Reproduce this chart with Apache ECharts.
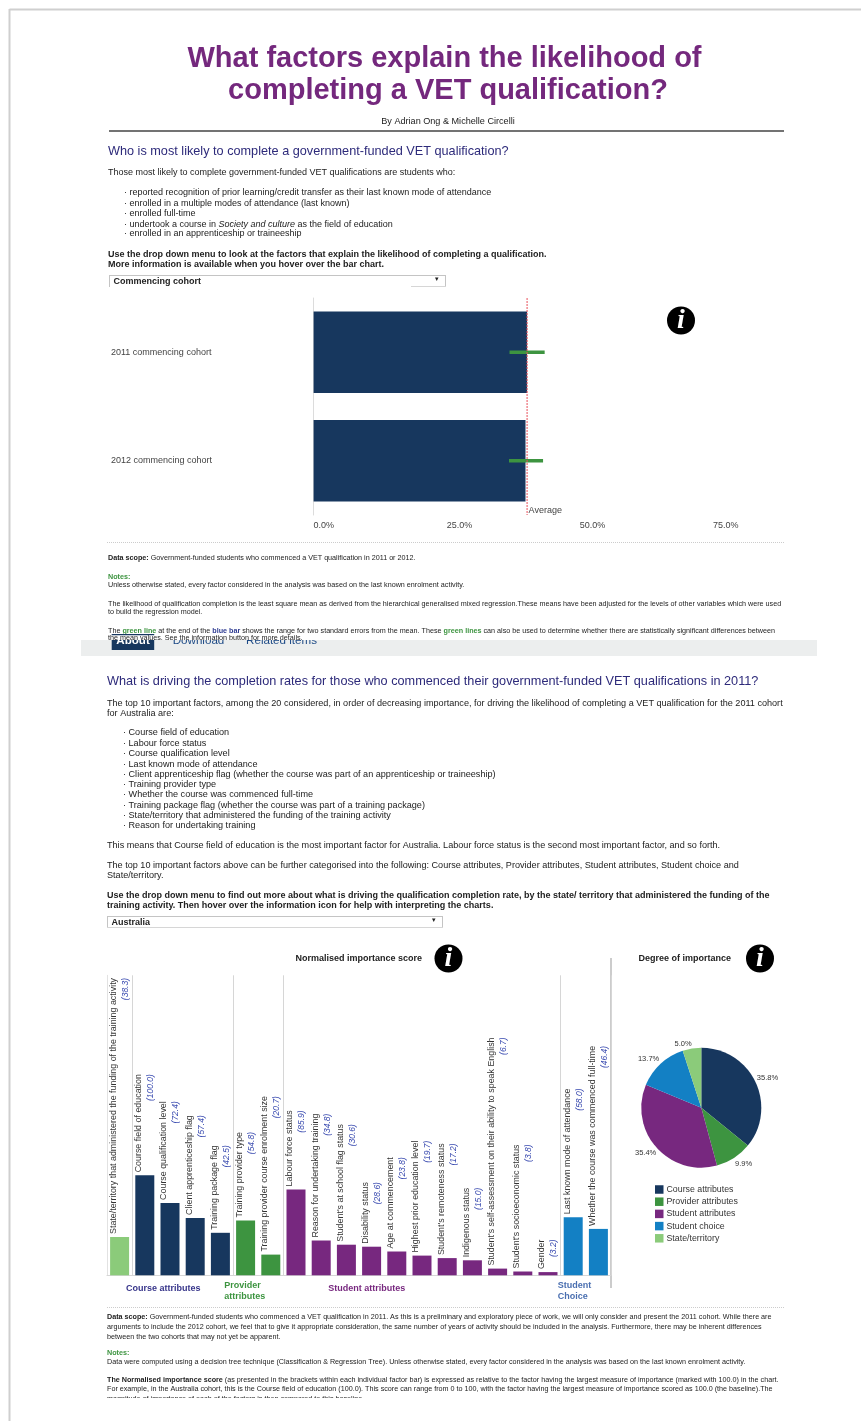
<!DOCTYPE html>
<html>
<head>
<meta charset="utf-8">
<title>What factors explain the likelihood of completing a VET qualification?</title>
<style>html,body{margin:0;padding:0;background:#fff}#chart{width:861px;height:1421px}</style>
<script src="https://cdn.jsdelivr.net/npm/echarts@6/dist/echarts.min.js"></script>
</head>
<body>
<div id="chart"></div>
<script>
// ---- Data ----
const cohortNames = ['2011 commencing cohort', '2012 commencing cohort'];
const cohortMeans = [40.1, 39.8];
const cohortLow = [36.8, 36.7];
const cohortHigh = [43.4, 43.1];
const cohortAverage = 40.1;
const cohortTicks = [0, 25, 50, 75];

const factorNames = [
  'State/territory that administered the funding of the training activity',
  'Course field of education', 'Course qualification level', 'Client apprenticeship flag', 'Training package flag',
  'Training provider type', 'Training provider course enrolment size',
  'Labour force status', 'Reason for undertaking training', "Student's at school flag status", 'Disability status',
  'Age at commencement', 'Highest prior education level', "Student's remoteness status", 'Indigenous status',
  "Student's self-assessment on their ability to speak English", "Student's socioeconomic status", 'Gender',
  'Last known mode of attendance', 'Whether the course was commenced full-time'
];
const factorScores = [38.3, 100.0, 72.4, 57.4, 42.5, 54.8, 20.7, 85.9, 34.8, 30.6, 28.6, 23.8, 19.7, 17.2, 15.0, 6.7, 3.8, 3.2, 58.0, 46.4];
const factorGroups = [4, 0, 0, 0, 0, 1, 1, 2, 2, 2, 2, 2, 2, 2, 2, 2, 2, 2, 3, 3];
const groupStarts = [1, 5, 7, 18];

const groupNames = ['Course attributes', 'Provider attributes', 'Student attributes', 'Student choice', 'State/territory'];
const groupShares = [35.8, 9.9, 35.4, 13.7, 5.0];

// ---- Styles ----
const palette = ['#17375e', '#3d9440', '#77287f', '#1380c4', '#8bcb7a'];
const pieLabelNudge = [[-5.5, -3], [-5, 4], [6.5, 4], [5, -3], [5, -3]];
const SANS = '"Liberation Sans", Arial, sans-serif';
const INK = '#222';
const BODY = 9;
const NOTE = 7.2;

function T(x, y, text, o) {
  o = o || {};
  const st = {
    text: text, fontFamily: SANS, fontSize: o.size || BODY, fontWeight: o.weight || 'normal',
    fontStyle: o.style || 'normal', fill: o.color || INK,
    align: o.align || 'left', textAlign: o.align || 'left',
    verticalAlign: o.va || 'middle', textVerticalAlign: o.va || 'middle'
  };
  if (o.rich) st.rich = o.rich;
  return { type: 'text', x: x, y: y, silent: true, style: st };
}
function R(x, y, w, h, fill) {
  return { type: 'rect', silent: true, shape: { x: x, y: y, width: w, height: h }, style: { fill: fill } };
}
function L(x1, y1, x2, y2, stroke, width, dash) {
  return { type: 'line', silent: true, shape: { x1: x1, y1: y1, x2: x2, y2: y2 },
    style: { stroke: stroke, lineWidth: width, lineDash: dash || null } };
}
function icon(cx, cy) {
  return [
    { type: 'circle', silent: true, shape: { cx: cx, cy: cy, r: 14 }, style: { fill: '#000' } },
    T(cx, cy, 'i', { align: 'center', size: 28, weight: 'bold', style: 'italic', color: '#fff' })
  ].map(function (e) {
    if (e.type === 'text') e.style.fontFamily = '"Liberation Serif", serif';
    return e;
  });
}
function dropdown(x, y, w, h, label, bottomFrom) {
  return [
    R(x, y, w, h, '#fff'),
    L(x, y + 0.5, x + w, y + 0.5, '#c4c4c4', 1),
    L(x + 0.5, y, x + 0.5, y + h, '#c4c4c4', 1),
    L(x + w - 0.5, y, x + w - 0.5, y + h, '#c4c4c4', 1),
    L(bottomFrom, y + h - 0.5, x + w, y + h - 0.5, '#d6d6d6', 1),
    T(x + 4.5, y + 7, label, { weight: 'bold' }),
    T(x + w - 9, y + 4, '\u25BE', { size: 7, align: 'center', color: '#222' })
  ];
}

const RICH_NOTES = {
  g: { fontFamily: SANS, fontSize: NOTE, fontWeight: 'bold', fill: '#3d9440', textFill: '#3d9440' },
  b: { fontFamily: SANS, fontSize: NOTE, fontWeight: 'bold', fill: '#2f3c92', textFill: '#2f3c92' },
  d: { fontFamily: SANS, fontSize: NOTE, fontWeight: 'bold', fill: INK, textFill: INK },
  t: { fontFamily: SANS, fontSize: NOTE, fill: INK, textFill: INK }
};
const RICH_ITALIC = {
  i: { fontFamily: SANS, fontSize: BODY, fontStyle: 'italic', fill: INK, textFill: INK },
  t: { fontFamily: SANS, fontSize: BODY, fill: INK, textFill: INK }
};

const HEADING = '#2d2a7a';

let g = [];
// page frame
g.push(L(9.5, 9.5, 861, 9.5, '#cfcfcf', 2), L(9.5, 9, 9.5, 1421, '#cfcfcf', 2));

// title block
g.push(T(444.5, 59, 'What factors explain the likelihood of', { size: 29, weight: 'bold', color: '#74287d', align: 'center' }));
g.push(T(448, 91, 'completing a VET qualification?', { size: 29, weight: 'bold', color: '#74287d', align: 'center' }));
g.push(T(448, 121.5, 'By Adrian Ong & Michelle Circelli', { align: 'center', size: 9.1 }));
g.push(L(109, 131, 784, 131, '#444', 1.5));

// section 1 text
g.push(T(108, 151.5, 'Who is most likely to complete a government-funded VET qualification?', { size: 12.7, color: HEADING }));
g.push(T(108, 173, 'Those most likely to complete government-funded VET qualifications are students who:'));
[[193, '\u00B7 reported recognition of prior learning/credit transfer as their last known mode of attendance'],
 [203.3, '\u00B7 enrolled in a multiple modes of attendance (last known)'],
 [214, '\u00B7 enrolled full-time']].forEach(function (l) { g.push(T(124, l[0], l[1])); });
g.push(T(124, 224.3, '{t|\u00B7 undertook a course in }{i|Society and culture}{t| as the field of education}', { rich: RICH_ITALIC }));
g.push(T(124, 234, '\u00B7 enrolled in an apprenticeship or traineeship'));
g.push(T(108, 254.3, 'Use the drop down menu to look at the factors that explain the likelihood of completing a qualification.', { weight: 'bold' }));
g.push(T(108, 265, 'More information is available when you hover over the bar chart.', { weight: 'bold' }));
g = g.concat(dropdown(109, 275, 337, 12, 'Commencing cohort', 411));
g = g.concat(icon(681, 320.5));

// section 1 notes
g.push(L(107, 542.5, 785, 542.5, '#cccccc', 1, [1, 1]));
g.push(T(108, 558, '{d|Data scope:}{t| Government-funded students who commenced a VET qualification in 2011 or 2012.}', { rich: RICH_NOTES }));
g.push(T(108, 576.7, 'Notes:', { size: NOTE, weight: 'bold', color: '#3d9440' }));
g.push(T(108, 585.3, 'Unless otherwise stated, every factor considered in the analysis was based on the last known enrolment activity.', { size: NOTE }));
g.push(T(108, 604, 'The likelihood of qualification completion is the least square mean as derived from the hierarchical generalised mixed regression.These means have been adjusted for the levels of other variables which were used', { size: NOTE }));
g.push(T(108, 612.3, 'to build the regression model.', { size: NOTE }));
g.push(T(108, 630.7, '{t|The }{g|green line}{t| at the end of the }{b|blue bar}{t| shows the range for two standard errors from the mean. These }{g|green lines}{t| can also be used to determine whether there are statistically significant differences between}', { rich: RICH_NOTES }));

// clipped navigation band
g.push(R(81, 640, 736, 16, '#eceeee'));
g.push(R(111.7, 634, 42.5, 16, '#17375e'));
g.push(T(133, 641, 'About', { size: 11.6, weight: 'bold', color: '#fff', align: 'center' }));
g.push(T(198.5, 641, 'Download', { size: 11.6, color: '#1d4a86', align: 'center' }));
g.push(T(281.5, 641, 'Related items', { size: 11.6, color: '#1d4a86', align: 'center' }));
g.push(R(81, 635.2, 736, 4.8, '#fff'));
g.push(T(108, 641.5, 'the mean values. See the information button for more details.', { size: NOTE, va: 'bottom' }));

// section 2 text
g.push(T(107, 681.3, 'What is driving the completion rates for those who commenced their government-funded VET qualifications in 2011?', { size: 12.7, color: HEADING }));
g.push(T(107, 703, 'The top 10 important factors, among the 20 considered, in order of decreasing importance, for driving the likelihood of completing a VET qualification for the 2011 cohort', { size: 9.1 }));
g.push(T(107, 713.7, 'for Australia are:', { size: 9.1 }));
[[732.7, 'Course field of education'], [743.3, 'Labour force status'], [753.7, 'Course qualification level'],
 [764, 'Last known mode of attendance'], [774, 'Client apprenticeship flag (whether the course was part of an apprenticeship or traineeship)'],
 [784.3, 'Training provider type'], [794.7, 'Whether the course was commenced full-time'],
 [805.3, 'Training package flag (whether the course was part of a training package)'],
 [815, 'State/territory that administered the funding of the training activity'], [825.3, 'Reason for undertaking training']
].forEach(function (l) { g.push(T(123, l[0], '\u00B7 ' + l[1], { size: 9.1 })); });
g.push(T(107, 845.3, 'This means that Course field of education is the most important factor for Australia. Labour force status is the second most important factor, and so forth.', { size: 9.1 }));
g.push(T(107, 865.7, 'The top 10 important factors above can be further categorised into the following: Course attributes, Provider attributes, Student attributes, Student choice and', { size: 9.1 }));
g.push(T(107, 875.3, 'State/territory.', { size: 9.1 }));
g.push(T(107, 895.3, 'Use the drop down menu to find out more about what is driving the qualification completion rate, by the state/ territory that administered the funding of the', { weight: 'bold' }));
g.push(T(107, 906, 'training activity. Then hover over the information icon for help with interpreting the charts.', { weight: 'bold' }));
g = g.concat(dropdown(107, 916, 336, 12, 'Australia', 107));

// chart headers
g.push(T(295.5, 959, 'Normalised importance score', { weight: 'bold' }));
g = g.concat(icon(448.5, 958.5));
g.push(T(638.5, 959, 'Degree of importance', { weight: 'bold' }));
g = g.concat(icon(760, 958.5));
g.push(L(611, 958, 611, 1288, '#cccccc', 2));

// group captions
g.push(T(126, 1288.3, 'Course attributes', { weight: 'bold', color: '#37358a' }));
g.push(T(224.3, 1286, 'Provider', { weight: 'bold', color: '#3d9440' }));
g.push(T(224.3, 1296.3, 'attributes', { weight: 'bold', color: '#3d9440' }));
g.push(T(328.3, 1288.5, 'Student attributes', { weight: 'bold', color: '#77287f' }));
g.push(T(557.7, 1286, 'Student', { weight: 'bold', color: '#4a6fb0' }));
g.push(T(557.7, 1296.3, 'Choice', { weight: 'bold', color: '#4a6fb0' }));

// section 2 notes
g.push(L(107, 1307.5, 785, 1307.5, '#cccccc', 1, [1, 1]));
g.push(T(107, 1317.3, '{d|Data scope:}{t| Government-funded students who commenced a VET qualification in 2011. As this is a preliminary and exploratory piece of work, we will only consider and present the 2011 cohort. While there are}', { rich: RICH_NOTES }));
g.push(T(107, 1326.7, 'arguments to include the 2012 cohort, we feel that to give it appropriate consideration, the same number of years of activity should be included in the analysis. Furthermore, there may be inherent differences', { size: NOTE }));
g.push(T(107, 1336.7, 'between the two cohorts that may not yet be apparent.', { size: NOTE }));
g.push(T(107, 1353.3, 'Notes:', { size: NOTE, weight: 'bold', color: '#3d9440' }));
g.push(T(107, 1361.7, 'Data were computed using a decision tree technique (Classification & Regression Tree). Unless otherwise stated, every factor considered in the analysis was based on the last known enrolment activity.', { size: NOTE }));
g.push(T(107, 1380.3, '{d|The Normalised importance score}{t| (as presented in the brackets within each individual factor bar) is expressed as relative to the factor having the largest measure of importance (marked with 100.0) in the chart.}', { rich: RICH_NOTES }));
g.push(T(107, 1389.3, 'For example, in the Australia cohort, this is the Course field of education (100.0). This score can range from 0 to 100, with the factor having the largest measure of importance scored as 100.0 (the baseline).The', { size: NOTE }));
g.push(T(107, 1398.6, 'magnitude of importance of each of the factors is then compared to this baseline.', { size: NOTE }));
g.push(R(100, 1398, 700, 8, '#fff'));

const chart = echarts.init(document.getElementById('chart'), null, { renderer: 'canvas' });
chart.setOption({
  animation: false,
  backgroundColor: '#fff',
  textStyle: { fontFamily: SANS },
  graphic: { elements: g },
  grid: [
    { left: 313.6, top: 298, width: 532.4, height: 217 },
    { left: 107, top: 975.3, width: 504, height: 300 }
  ],
  xAxis: [
    { gridIndex: 0, type: 'value', min: 0, max: 100, interval: 25,
      axisLine: { show: false }, axisTick: { show: false }, splitLine: { show: false },
      axisLabel: { align: 'left', margin: 6, fontSize: 9, color: '#444',
        formatter: function (v) { return cohortTicks.indexOf(v) >= 0 ? v.toFixed(1) + '%' : ''; } } },
    { gridIndex: 1, type: 'category', data: factorNames,
      axisLabel: { show: false }, axisTick: { show: false },
      axisLine: { lineStyle: { color: '#d6d6d6' } },
      splitLine: { show: true, lineStyle: { color: '#d6d6d6' },
        interval: function (i) { return groupStarts.indexOf(i) >= 0; } } }
  ],
  yAxis: [
    { gridIndex: 0, type: 'category', inverse: true, data: cohortNames,
      axisLine: { lineStyle: { color: '#dcdcdc' } }, axisTick: { show: false },
      axisLabel: { align: 'left', margin: 202.6, fontSize: 9, color: '#444' } },
    { gridIndex: 1, type: 'value', min: 0, max: 300, splitLine: { show: false },
      axisLabel: { show: false }, axisTick: { show: false },
      axisLine: { show: true, lineStyle: { color: '#e2e2e2' } } }
  ],
  legend: {
    left: 655, top: 1185, padding: 0, orient: 'vertical', itemWidth: 8.5, itemHeight: 8.5, itemGap: 3.2,
    icon: 'rect', selectedMode: false, data: groupNames,
    textStyle: { fontSize: 8.8, color: '#333', padding: [0, 0, 0, -2] }
  },
  series: [
    { type: 'bar', xAxisIndex: 0, yAxisIndex: 0, data: cohortMeans, barWidth: 81.5,
      itemStyle: { color: palette[0] }, silent: true },
    { type: 'custom', xAxisIndex: 0, yAxisIndex: 0, silent: true, z: 5, clip: false,
      data: cohortNames.map(function (n, i) { return [cohortLow[i], cohortHigh[i], i]; }),
      encode: { x: [0, 1], y: 2 },
      renderItem: function (params, api) {
        const a = api.coord([api.value(0), api.value(2)]);
        const b = api.coord([api.value(1), api.value(2)]);
        return { type: 'line', shape: { x1: a[0], y1: a[1], x2: b[0], y2: b[1] },
          style: { stroke: '#3d9440', lineWidth: 3.6 } };
      } },
    { type: 'custom', xAxisIndex: 0, yAxisIndex: 0, silent: true, z: 6, clip: false,
      data: [[cohortAverage, 0]],
      encode: { x: 0, y: 1 },
      renderItem: function (params, api) {
        const x = api.coord([api.value(0), 0])[0];
        const box = params.coordSys;
        return { type: 'group', children: [
          { type: 'line', shape: { x1: x, y1: box.y, x2: x, y2: box.y + box.height },
            style: { stroke: '#e8505b', lineWidth: 1, lineDash: [2, 1] } },
          { type: 'text', x: x + 1.5, y: box.y + box.height - 4.5,
            style: { text: 'Average', fontFamily: SANS, fontSize: 9, fill: '#444', align: 'left', verticalAlign: 'middle' } }
        ] };
      } },
    { type: 'bar', xAxisIndex: 1, yAxisIndex: 1, barWidth: 19, silent: true,
      data: factorScores.map(function (v, i) {
        return { value: v, name: factorNames[i], itemStyle: { color: palette[factorGroups[i]] } };
      }),
      label: { show: true, position: 'top', distance: 3, rotate: 90, align: 'left', verticalAlign: 'middle',
        formatter: function (p) { return '{a|' + p.name + '}\n{b|(' + p.value.toFixed(1) + ')}'; },
        rich: {
          a: { fontFamily: SANS, fontSize: 8.9, color: '#333', lineHeight: 12 },
          b: { fontFamily: SANS, fontSize: 8.5, fontStyle: 'italic', color: '#3a4bb0', lineHeight: 12, align: 'right' }
        } } },
    { type: 'pie', center: [701.3, 1107.7], radius: [0, 60], startAngle: 90, clockwise: true, silent: true,
      data: groupNames.map(function (n, i) { return { name: n, value: groupShares[i], itemStyle: { color: palette[i] } }; }),
      label: { show: true, fontSize: 7.5, color: '#333', formatter: function (p) { return p.value.toFixed(1) + '%'; } },
      labelLayout: function (p) { const n = pieLabelNudge[p.dataIndex]; return { dx: n[0], dy: n[1] }; },
      labelLine: { show: false, length: 2, length2: 0 } }
  ]
});
</script>
</body>
</html>
